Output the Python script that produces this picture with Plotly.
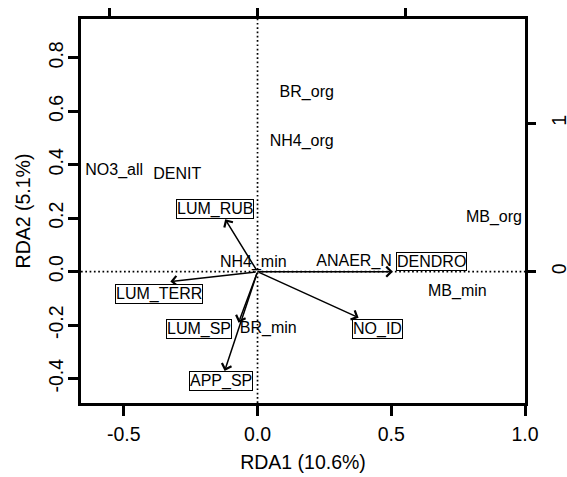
import plotly.graph_objects as go

# ---- data ----
site_names = ["BR_org", "NH4_org", "NO3_all", "DENIT", "MB_org",
              "ANAER_N", "NH4_min", "MB_min", "BR_min"]
site_x = [0.184, 0.165, -0.536, -0.300, 0.884, 0.361, -0.016, 0.747, 0.040]
site_y = [0.668, 0.485, 0.376, 0.361, 0.201, 0.037, 0.034, -0.075, -0.215]

env_names = ["LUM_RUB", "LUM_TERR", "LUM_SP", "APP_SP", "DENDRO", "NO_ID"]
env_x = [-0.121, -0.326, -0.071, -0.123, 0.506, 0.378]
env_y = [0.196, -0.037, -0.191, -0.371, 0.000, -0.172]
env_label_x = [-0.160, -0.369, -0.219, -0.138, 0.649, 0.449]
env_label_y = [0.233, -0.083, -0.215, -0.409, 0.039, -0.216]

x_ticks = [-0.5, 0.0, 0.5, 1.0]
x_ticktext = ["-0.5", "0.0", "0.5", "1.0"]
y_ticks = [-0.4, -0.2, 0.0, 0.2, 0.4, 0.6, 0.8]
y_ticktext = ["-0.4", "-0.2", "0.0", "0.2", "0.4", "0.6", "0.8"]
top_ticks = [-1, 0, 1]
right_ticks = [0, 1]
right_ticktext = ["0", "1"]

x_title = "RDA1 (10.6%)"
y_title = "RDA2 (5.1%)"

FONT = "Liberation Sans, Arial, sans-serif"
x_range = [-0.66, 1.0]
y_range = [-0.491, 0.945]
x2_range = [-1.194, 1.812]
y2_range = [-0.885, 1.703]

fig = go.Figure()

# site / species text labels
fig.add_trace(go.Scatter(
    x=site_x, y=site_y, mode="text", text=site_names,
    textfont=dict(family=FONT, size=16, color="black"),
    hoverinfo="skip", showlegend=False))

# invisible trace for secondary axes
fig.add_trace(go.Scatter(x=[0], y=[0], xaxis="x2", yaxis="y2",
                         mode="markers", marker=dict(opacity=0),
                         hoverinfo="skip", showlegend=False))

annotations = []
for nm, tx, ty, lx, ly in zip(env_names, env_x, env_y, env_label_x, env_label_y):
    annotations.append(dict(
        x=tx, y=ty, ax=0, ay=0, xref="x", yref="y", axref="x", ayref="y",
        text="", showarrow=True, arrowhead=4, arrowsize=1.3,
        arrowwidth=1.5, arrowcolor="black", standoff=0, startstandoff=0))
    annotations.append(dict(
        x=lx, y=ly, xref="x", yref="y", text=nm, showarrow=False,
        font=dict(family=FONT, size=16, color="black"),
        bordercolor="black", borderwidth=1, borderpad=0, bgcolor="white"))

shapes = [
    dict(type="line", xref="x", yref="y", x0=0, x1=0,
         y0=y_range[0], y1=y_range[1],
         line=dict(color="black", width=1.7, dash="1.7px,2.6px"), layer="below"),
    dict(type="line", xref="x", yref="y", x0=x_range[0], x1=x_range[1],
         y0=0, y1=0,
         line=dict(color="black", width=1.7, dash="1.7px,2.6px"), layer="below"),
]

axis_common = dict(showgrid=False, zeroline=False, ticks="outside",
                   ticklen=10, tickwidth=2.5, tickcolor="black", automargin=False,
                   tickfont=dict(family=FONT, size=19.5, color="black"))

fig.update_layout(
    width=567, height=477,
    margin=dict(l=81, r=42, t=19, b=74),
    paper_bgcolor="white", plot_bgcolor="white",
    showlegend=False,
    annotations=annotations,
    shapes=shapes,
    xaxis=dict(range=x_range, tickvals=x_ticks, ticktext=x_ticktext,
               showline=True, linewidth=2.7, linecolor="black", mirror=True,
               ticklabelstandoff=2,
               title=dict(text=x_title, font=dict(family=FONT, size=19.5, color="black"),
                          standoff=12),
               **axis_common),
    yaxis=dict(range=y_range, tickvals=y_ticks, ticktext=y_ticktext,
               showline=True, linewidth=2.7, linecolor="black", mirror=True,
               tickangle=-90, ticklabelstandoff=-3,
               title=dict(text=y_title, font=dict(family=FONT, size=19.5, color="black"),
                          standoff=10),
               **axis_common),
    xaxis2=dict(range=x2_range, overlaying="x", side="top", anchor="y",
                tickvals=top_ticks, showticklabels=False, showline=False,
                **axis_common),
    yaxis2=dict(range=y2_range, overlaying="y", side="right", anchor="x",
                tickvals=right_ticks, ticktext=right_ticktext, tickangle=-90,
                showline=False, ticklabelstandoff=7,
                **axis_common),
)

fig.write_html("out.html", config={"displayModeBar": False},
               post_script="document.body.style.margin='0';"
                           "document.body.style.overflow='hidden';")
